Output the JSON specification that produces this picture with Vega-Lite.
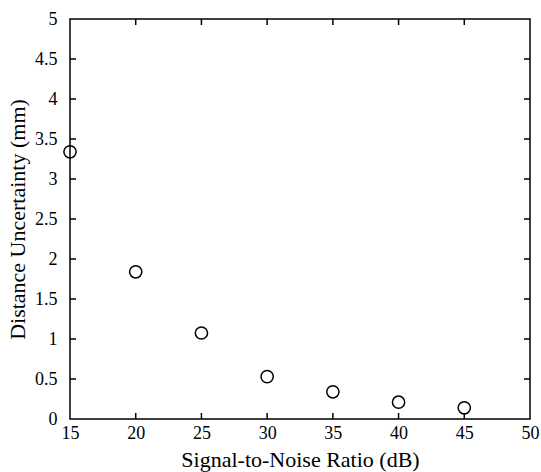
{
  "$schema": "https://vega.github.io/schema/vega-lite/v6.json",
  "autosize": "none",
  "width": 460,
  "height": 400,
  "padding": {"left": 70, "top": 19, "right": 11, "bottom": 53},
  "background": "white",
  "config": {
    "view": {"stroke": "black", "strokeWidth": 1.5},
    "axis": {
      "labelFont": "Liberation Serif",
      "titleFont": "Liberation Serif",
      "labelColor": "black",
      "titleColor": "black",
      "labelFontSize": 18,
      "titleFontSize": 22,
      "titleFontWeight": "normal",
      "grid": false,
      "domain": false,
      "ticks": false
    }
  },
  "datasets": {
    "pts": [
      {"snr": 15, "u": 3.34},
      {"snr": 20, "u": 1.84},
      {"snr": 25, "u": 1.075},
      {"snr": 30, "u": 0.53},
      {"snr": 35, "u": 0.34},
      {"snr": 40, "u": 0.21},
      {"snr": 45, "u": 0.14}
    ],
    "xt": [{"v": 20}, {"v": 25}, {"v": 30}, {"v": 35}, {"v": 40}, {"v": 45}],
    "yt": [{"v": 0.5}, {"v": 1}, {"v": 1.5}, {"v": 2}, {"v": 2.5}, {"v": 3}, {"v": 3.5}, {"v": 4}, {"v": 4.5}]
  },
  "layer": [
    {
      "data": {"name": "pts"},
      "mark": {"type": "point", "shape": "circle", "filled": false, "color": "black", "size": 150, "strokeWidth": 1.5, "opacity": 1, "clip": false},
      "encoding": {
        "x": {"field": "snr", "type": "quantitative", "scale": {"domain": [15, 50], "nice": false, "zero": false},
          "axis": {"orient": "bottom", "title": "Signal-to-Noise Ratio (dB)", "values": [15,20,25,30,35,40,45,50], "format": "~g", "labelPadding": 5, "titlePadding": 7, "labelFlush": false}},
        "y": {"field": "u", "type": "quantitative", "scale": {"domain": [0, 5], "nice": false},
          "axis": {"orient": "left", "title": "Distance Uncertainty (mm)", "values": [0,0.5,1,1.5,2,2.5,3,3.5,4,4.5,5], "format": "~g", "labelPadding": 13, "titlePadding": 5, "labelFlush": false}}
      }
    },
    {
      "data": {"name": "xt"},
      "mark": {"type": "rule", "color": "black", "strokeWidth": 1.5},
      "encoding": {
        "x": {"field": "v", "type": "quantitative", "axis": null},
        "y": {"datum": 0, "axis": null},
        "y2": {"datum": 0.075}
      }
    },
    {
      "data": {"name": "xt"},
      "mark": {"type": "rule", "color": "black", "strokeWidth": 1.5},
      "encoding": {
        "x": {"field": "v", "type": "quantitative", "axis": null},
        "y": {"datum": 5, "axis": null},
        "y2": {"datum": 4.925}
      }
    },
    {
      "data": {"name": "yt"},
      "mark": {"type": "rule", "color": "black", "strokeWidth": 1.5},
      "encoding": {
        "y": {"field": "v", "type": "quantitative", "axis": null},
        "x": {"datum": 15, "axis": null},
        "x2": {"datum": 15.46}
      }
    },
    {
      "data": {"name": "yt"},
      "mark": {"type": "rule", "color": "black", "strokeWidth": 1.5},
      "encoding": {
        "y": {"field": "v", "type": "quantitative", "axis": null},
        "x": {"datum": 50, "axis": null},
        "x2": {"datum": 49.54}
      }
    }
  ],
  "resolve": {"axis": {"x": "independent", "y": "independent"}}
}
